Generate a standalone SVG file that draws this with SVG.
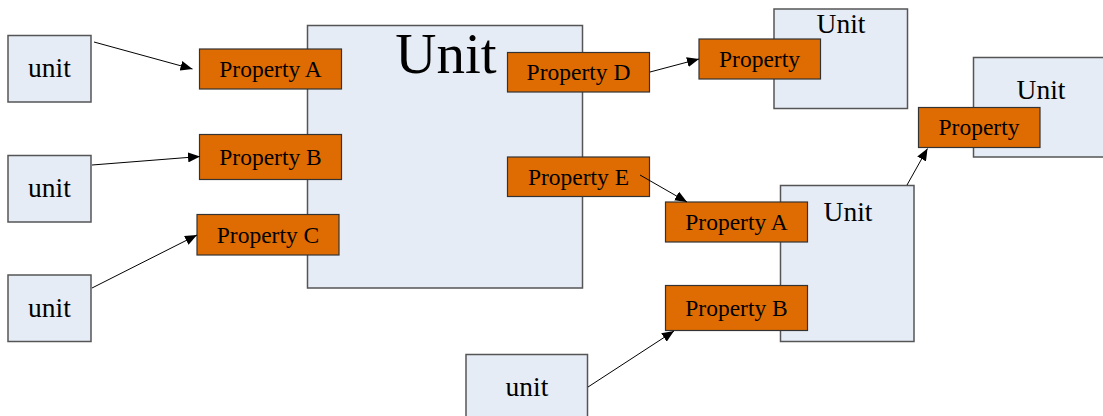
<svg xmlns="http://www.w3.org/2000/svg" width="1103" height="416" viewBox="0 0 1103 416">
<style>
.unit{fill:#E6ECF6;stroke:#555;stroke-width:1.5}
.prop{fill:#DF6C02;stroke:#333;stroke-width:1.2}
.t{font-family:"Liberation Serif","Times New Roman",serif;fill:#000;text-anchor:middle}
.pt{font-size:23.5px}
.ut{font-size:27.5px}
.conn{stroke:#000;stroke-width:1;fill:none;marker-end:url(#ah)}
</style>
<defs>
<marker id="ah" markerWidth="12" markerHeight="10" refX="12" refY="5" orient="auto" markerUnits="userSpaceOnUse">
<path d="M0,0 L12,5 L0,10 Z" fill="#000"/>
</marker>
</defs>
<rect width="1103" height="416" fill="#fff"/>
<g id="unit1"><rect class="unit" x="8" y="35.5" width="83" height="66.5"/><text class="t ut" x="49.5" y="77">unit</text></g>
<g id="unit2"><rect class="unit" x="8" y="155.5" width="83" height="66.5"/><text class="t ut" x="49.5" y="197">unit</text></g>
<g id="unit3"><rect class="unit" x="8" y="275" width="83" height="66.5"/><text class="t ut" x="49.5" y="316.5">unit</text></g>
<g id="unit4"><rect class="unit" x="466" y="354.5" width="121.5" height="70"/><text class="t ut" x="527" y="396">unit</text></g>
<g id="bigUnit"><rect class="unit" x="307.5" y="25.5" width="275" height="262.5"/><text class="t" style="font-size:57px" x="446" y="73">Unit</text></g>
<g id="unitTop"><rect class="unit" x="774" y="9" width="133.5" height="99.5"/><text class="t ut" x="841" y="33">Unit</text></g>
<g id="unitRight"><rect class="unit" x="973.5" y="57.5" width="135" height="99.5"/><text class="t ut" x="1041" y="99">Unit</text></g>
<g id="unitMid"><rect class="unit" x="780.5" y="185.5" width="133.5" height="156"/><text class="t ut" x="848" y="221">Unit</text></g>
<g id="propA"><rect class="prop" x="199.5" y="49" width="142" height="40"/><text class="t pt" x="270.5" y="76.5">Property A</text></g>
<g id="propB"><rect class="prop" x="199.5" y="134.5" width="142" height="45"/><text class="t pt" x="270.5" y="164.5">Property B</text></g>
<g id="propC"><rect class="prop" x="197" y="214.5" width="142" height="40.5"/><text class="t pt" x="268" y="242.5">Property C</text></g>
<g id="propD"><rect class="prop" x="507.5" y="52.5" width="142" height="39.5"/><text class="t pt" x="578.5" y="79.5">Property D</text></g>
<g id="propE"><rect class="prop" x="507.5" y="157" width="142" height="39.5"/><text class="t pt" x="578.5" y="184.5">Property E</text></g>
<g id="propTop"><rect class="prop" x="699" y="39" width="121.5" height="40"/><text class="t pt" x="759.5" y="66.5">Property</text></g>
<g id="propRight"><rect class="prop" x="918.5" y="107.5" width="121.5" height="40"/><text class="t pt" x="979" y="134.5">Property</text></g>
<g id="propMidA"><rect class="prop" x="665.5" y="202" width="142" height="40"/><text class="t pt" x="736.5" y="229.5">Property A</text></g>
<g id="propMidB"><rect class="prop" x="665.5" y="285.5" width="142" height="45"/><text class="t pt" x="736.5" y="315.5">Property B</text></g>
<g id="connectors">
<line class="conn" x1="94" y1="42" x2="192.5" y2="69"/>
<line class="conn" x1="92" y1="165" x2="200" y2="156.5"/>
<line class="conn" x1="92" y1="288" x2="197" y2="235"/>
<line class="conn" x1="650" y1="72" x2="699" y2="59"/>
<line class="conn" x1="640" y1="175" x2="687" y2="202"/>
<line class="conn" x1="907" y1="185" x2="927.5" y2="148.5"/>
<line class="conn" x1="588" y1="387" x2="674" y2="331"/>
</g>
</svg>
